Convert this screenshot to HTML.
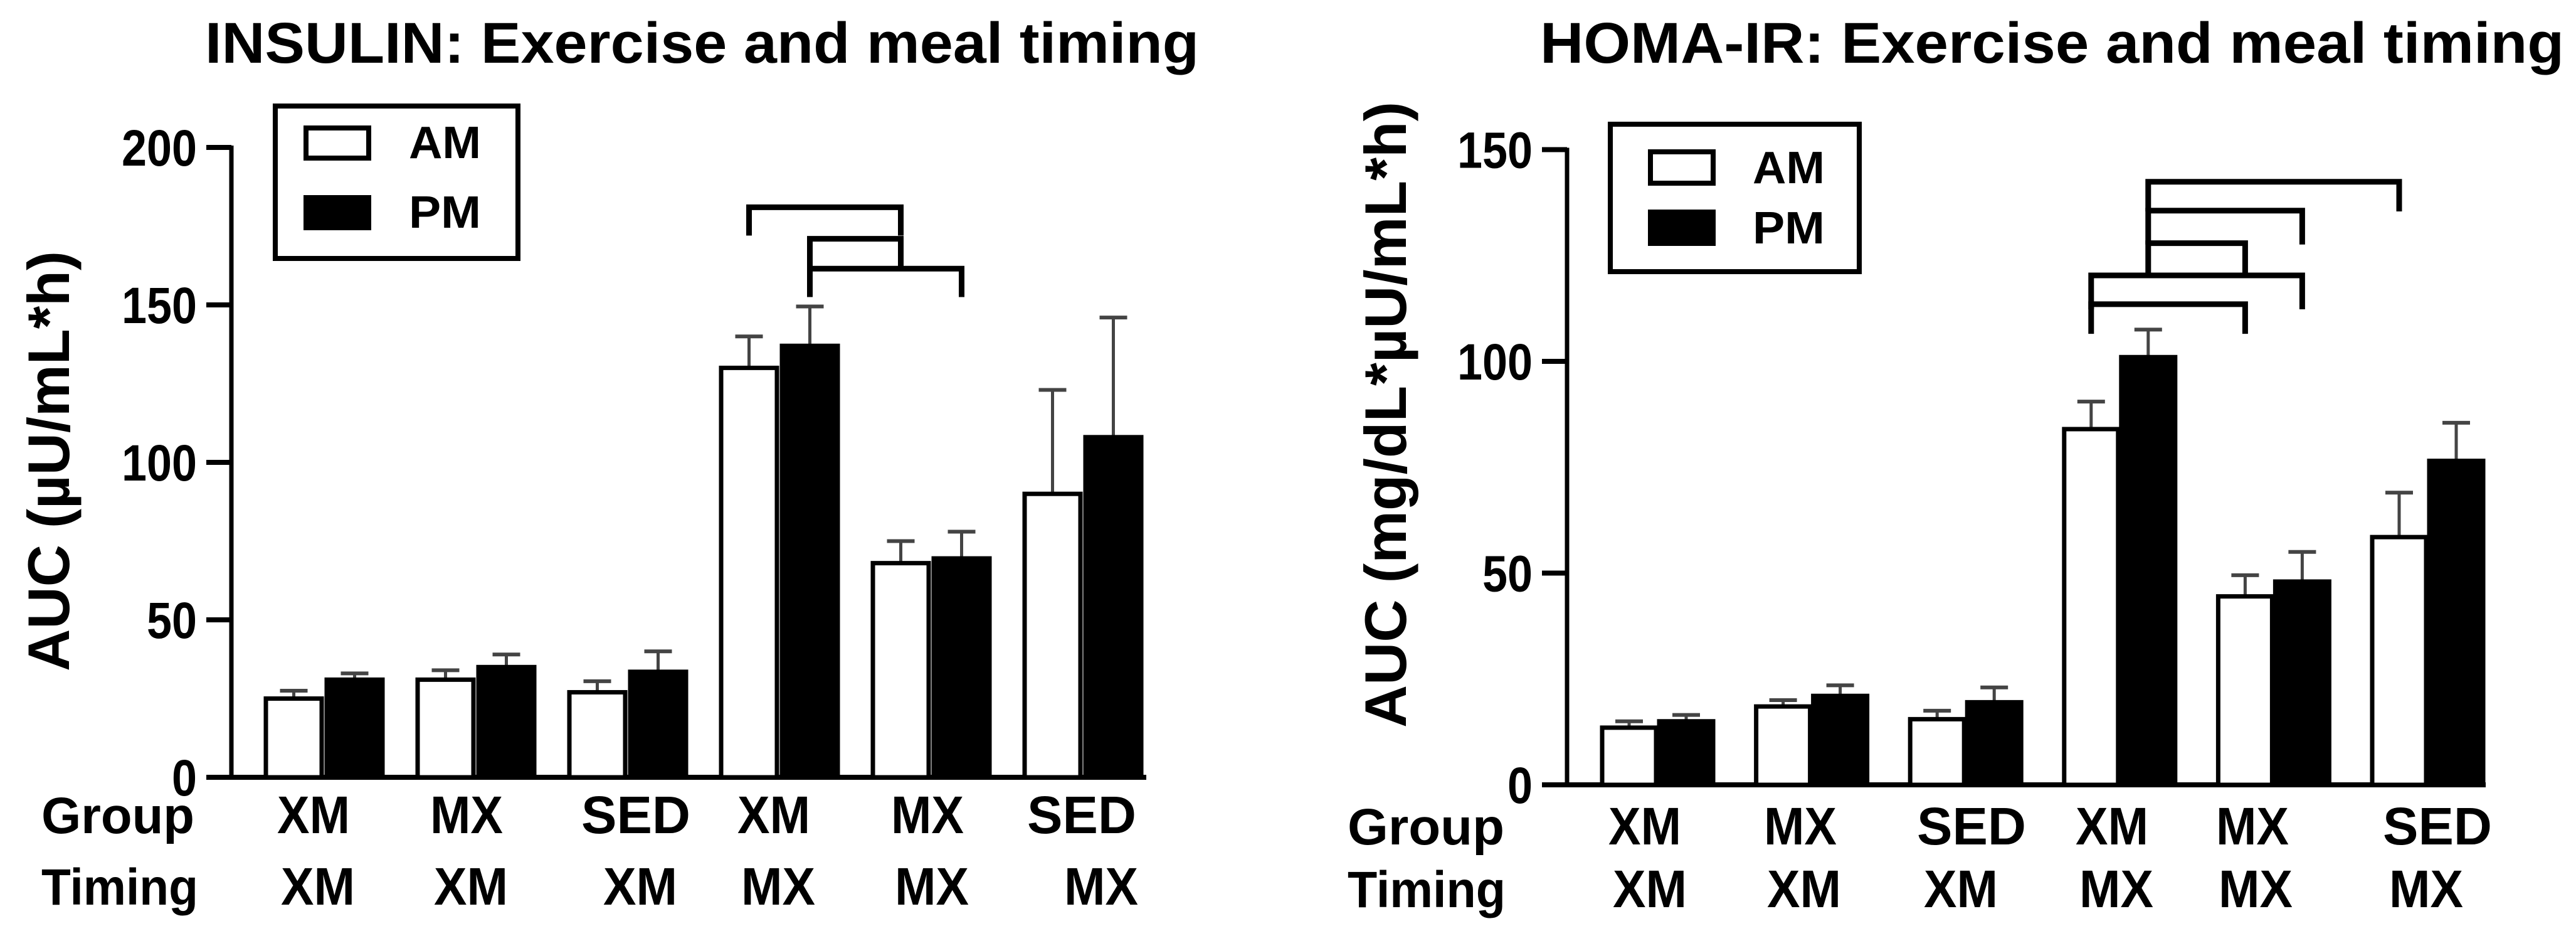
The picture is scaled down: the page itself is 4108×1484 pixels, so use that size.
<!DOCTYPE html>
<html><head><meta charset="utf-8"><style>
html,body{margin:0;padding:0;background:#fff;}
svg{display:block;font-family:"Liberation Sans",Arial,sans-serif;font-weight:bold;}
</style></head><body>
<svg id="fig" width="4108" height="1484" viewBox="0 0 4108 1484" xmlns="http://www.w3.org/2000/svg">
<g id="left"></g>
<g id="right"></g>
</svg>
<script>
const groupLabels = ["XM","MX","SED","XM","MX","SED"];
const timingLabels = ["XM","XM","XM","MX","MX","MX"];
const insAM = [25,31,27,130,68,90];
const insAMerr = [27.5,34,30.5,140,75,123];
const insPM = [31,35,33.5,137,69.5,108];
const insPMerr = [33,39,40,149.5,78,146];
const insTicks = [0,50,100,150,200];
const homaAM = [13.5,18.5,15.5,84,44.5,58.5];
const homaAMerr = [15,20,17.5,90.5,49.5,69];
const homaPM = [15,21,19.5,101,48,76.5];
const homaPMerr = [16.5,23.5,23,107.5,55,85.5];
const homaTicks = [0,50,100,150];
// brackets: [groupA, seriesA(0=AM,1=PM), groupB, seriesB, yValue, legUnits]
const insBrackets = [[3,0,4,0,181,9],[3,1,4,0,171,9],[3,1,4,1,161.5,9]];
const homaBrackets = [[3,1,5,0,142.4,7],[3,1,4,1,135.6,8],[3,1,4,0,127.9,7],[3,0,4,1,120.3,8],[3,0,4,0,113.5,7]];

const NS="http://www.w3.org/2000/svg";
function mk(parent,tag,attrs,text){const e=document.createElementNS(NS,tag);for(const k in attrs)e.setAttribute(k,attrs[k]);if(text!==undefined)e.textContent=text;parent.appendChild(e);return e;}

function chart(g,cfg){
  const y=v=>cfg.y0-v*cfg.k;
  const xAM=i=>cfg.bx0+i*cfg.pitch;
  const xPM=i=>xAM(i)+cfg.pmOff;
  const cx=(i,s)=>(s?xPM(i):xAM(i))+cfg.bw/2;
  let t=mk(g,'text',{x:cfg.titleX,y:100,'font-size':92,textLength:cfg.titleW,lengthAdjust:'spacingAndGlyphs'},cfg.title);
  
  t=mk(g,'text',{x:0,y:0,'font-size':94,'text-anchor':'middle',textLength:cfg.ytLen,lengthAdjust:'spacingAndGlyphs',transform:`translate(${cfg.ytX},${cfg.ytY}) rotate(-90)`},cfg.ytitle);
  
  let a=mk(g,'line',{x1:cfg.axX,y1:y(cfg.ticks[cfg.ticks.length-1])-3,x2:cfg.axX,y2:cfg.y0+3,stroke:'#000','stroke-width':7});
  
  a=mk(g,'line',{x1:cfg.axX,y1:cfg.y0,x2:cfg.axEnd,y2:cfg.y0,stroke:'#000','stroke-width':8});
  
  cfg.ticks.forEach(v=>{
    const tk=mk(g,'line',{x1:cfg.axX-40,y1:y(v),x2:cfg.axX,y2:y(v),stroke:'#000','stroke-width':8});
    
    const s=String(v);
    const tl=mk(g,'text',{x:cfg.axX-55,y:y(v)+29,'font-size':82,'text-anchor':'end',textLength:s.length*40,lengthAdjust:'spacingAndGlyphs'},s);
    
  });
  [[cfg.am,cfg.amErr,0],[cfg.pm,cfg.pmErr,1]].forEach(([vals,errs,s])=>{
    vals.forEach((v,i)=>{
      const bx=s?xPM(i):xAM(i);
      const c=cx(i,s);
      const eb=mk(g,'line',{x1:c,y1:y(v),x2:c,y2:y(errs[i]),stroke:'#444','stroke-width':5});
      
      const cap=mk(g,'line',{x1:c-22,y1:y(errs[i]),x2:c+22,y2:y(errs[i]),stroke:'#444','stroke-width':6});
      
      const r=mk(g,'rect',{x:bx+3,y:y(v),width:cfg.bw-6,height:cfg.y0-y(v),fill:s?'#000':'#fff',stroke:'#000','stroke-width':7});
      
    });
  });
  cfg.brackets.forEach(b=>{
    const x1=cx(b[0],b[1]),x2=cx(b[2],b[3]),yy=y(b[4]),yl=y(b[4]-b[5]);
    const p=mk(g,'path',{d:`M${x1},${yl} V${yy} H${x2} V${yl}`,fill:'none',stroke:'#000','stroke-width':9});
    
  });
  const L=cfg.leg;
  let e=mk(g,'rect',{x:L.x,y:L.y,width:L.w,height:L.h,fill:'#fff',stroke:'#000','stroke-width':8});
  
  e=mk(g,'rect',{x:L.sx,y:L.amY,width:L.sw,height:L.sh,fill:'#fff',stroke:'#000','stroke-width':8});
  
  e=mk(g,'rect',{x:L.sx,y:L.pmY,width:L.sw,height:L.sh,fill:'#000',stroke:'#000','stroke-width':8});
  
  e=mk(g,'text',{x:L.tx,y:L.amY+L.sh,'font-size':72,textLength:115,lengthAdjust:'spacingAndGlyphs'},'AM');
  
  e=mk(g,'text',{x:L.tx,y:L.pmY+L.sh,'font-size':72,textLength:115,lengthAdjust:'spacingAndGlyphs'},'PM');
  
  e=mk(g,'text',{x:cfg.rowX,y:cfg.row1,'font-size':82,textLength:cfg.rowW1,lengthAdjust:'spacingAndGlyphs'},'Group');
  
  e=mk(g,'text',{x:cfg.rowX,y:cfg.row2,'font-size':82,textLength:cfg.rowW2,lengthAdjust:'spacingAndGlyphs'},'Timing');
  
  groupLabels.forEach((s,i)=>{
    const l=mk(g,'text',{x:cfg.gx[i],y:cfg.row1,'font-size':84,'text-anchor':'middle',textLength:s.length*58,lengthAdjust:'spacingAndGlyphs'},s);
    
  });
  timingLabels.forEach((s,i)=>{
    const l=mk(g,'text',{x:cfg.tx[i],y:cfg.row2,'font-size':84,'text-anchor':'middle',textLength:s.length*59,lengthAdjust:'spacingAndGlyphs'},s);
    
  });
}

chart(document.getElementById('left'),{
  title:'INSULIN: Exercise and meal timing',titleX:327,titleW:1585,
  ytitle:'AUC (µU/mL*h)',ytX:110,ytY:735,ytLen:670,
  y0:1239,k:5.02,ticks:insTicks,axX:369,axEnd:1828,
  bx0:421,pitch:242,bw:95,pmOff:97,
  am:insAM,amErr:insAMerr,pm:insPM,pmErr:insPMerr,brackets:insBrackets,
  leg:{x:439,y:169,w:387,h:243,sx:488,sw:100,sh:48,amY:204,pmY:315,tx:652},
  rowX:66,row1:1328,row2:1442,rowW1:244,rowW2:250,
  gx:[500,744,1014,1234,1479,1725],tx:[507,751,1021,1241,1486,1756]
});
chart(document.getElementById('right'),{
  title:'HOMA-IR: Exercise and meal timing',titleX:2456,titleW:1633,
  ytitle:'AUC (mg/dL*µU/mL*h)',ytX:2242,ytY:661,ytLen:998,
  y0:1251,k:6.75,ticks:homaTicks,axX:2499,axEnd:3964,
  bx0:2552,pitch:245.6,bw:92,pmOff:91,
  am:homaAM,amErr:homaAMerr,pm:homaPM,pmErr:homaPMerr,brackets:homaBrackets,
  leg:{x:2568,y:198,w:397,h:235,sx:2632,sw:100,sh:50,amY:242,pmY:338,tx:2795},
  rowX:2149,row1:1346,row2:1446,rowW1:250,rowW2:252,
  gx:[2623,2871,3144,3368,3592,3887],tx:[2631,2877,3127,3375,3597,3869]
});
</script>
</body></html>
